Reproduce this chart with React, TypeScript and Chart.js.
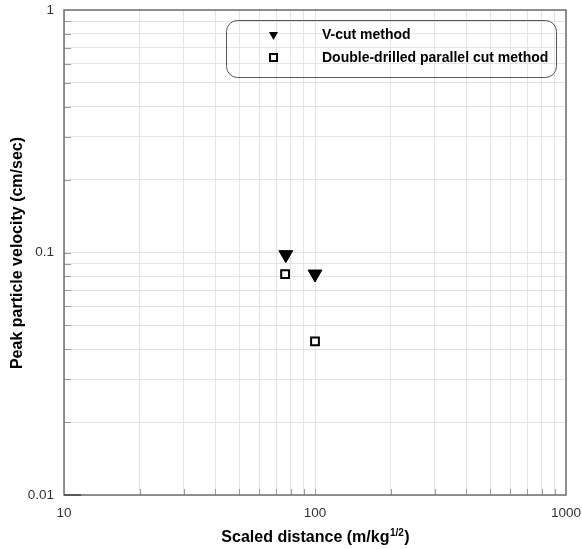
import React, { useEffect, useRef } from "react";
import { Chart, registerables } from "chart.js";

Chart.register(...registerables);

const seriesNames = ["V-cut method", "Double-drilled parallel cut method"];
const vcutX = [76.5, 100];
const vcutY = [0.098, 0.0815];
const doubleX = [76, 100];
const doubleY = [0.0815, 0.043];

const xTickValues = [10, 20, 30, 40, 50, 60, 70, 80, 90, 100, 200, 300, 400, 500, 600, 700, 800, 900, 1000];
const xMajor = [10, 100, 1000];
const yTickValues = [0.01, 0.02, 0.03, 0.04, 0.05, 0.06, 0.07, 0.08, 0.09, 0.1, 0.2, 0.3, 0.4, 0.5, 0.6, 0.7, 0.8, 0.9, 1];
const yMajor = [0.01, 0.1, 1];
const xTitle = "Scaled distance (m/kg";
const xTitleSup = "1/2";
const yTitle = "Peak particle velocity (cm/sec)";

const FONT = "'Liberation Sans', Arial, sans-serif";

const decorPlugin = {
  id: "decor",
  beforeDatasetsDraw(chart: any) {
    const { ctx, chartArea: a, scales } = chart;
    ctx.save();
    ctx.strokeStyle = "#9a9a9a";
    ctx.lineWidth = 1;
    xTickValues.forEach((v) => {
      if (v === 10 || v === 1000) return;
      const px = Math.round(scales.x.getPixelForValue(v)) + 0.5;
      ctx.beginPath();
      ctx.moveTo(px, a.bottom);
      ctx.lineTo(px, a.bottom - 6);
      ctx.stroke();
    });
    yTickValues.forEach((v) => {
      if (v === 0.01 || v === 1) return;
      const py = Math.round(scales.y.getPixelForValue(v)) + 0.5;
      ctx.beginPath();
      ctx.moveTo(a.left, py);
      ctx.lineTo(a.left + 7, py);
      ctx.stroke();
    });
    ctx.strokeStyle = "#6e6e6e";
    ctx.lineWidth = 1.5;
    ctx.strokeRect(a.left, a.top, a.right - a.left, a.bottom - a.top);
    ctx.strokeStyle = "#444";
    ctx.beginPath();
    ctx.moveTo(a.left, a.bottom);
    ctx.lineTo(a.left + 17, a.bottom);
    ctx.stroke();
    ctx.restore();
  },
  afterDraw(chart: any) {
    const { ctx, chartArea: a } = chart;
    ctx.save();
    ctx.strokeStyle = "#555";
    ctx.lineWidth = 1;
    ctx.beginPath();
    (ctx as any).roundRect(226.5, 20.5, 330, 57, 11);
    ctx.stroke();
    ctx.fillStyle = "#000";
    ctx.beginPath();
    ctx.moveTo(269, 32);
    ctx.lineTo(278, 32);
    ctx.lineTo(273.5, 40);
    ctx.closePath();
    ctx.fill();
    ctx.strokeStyle = "#000";
    ctx.lineWidth = 2;
    ctx.fillStyle = "#fff";
    ctx.fillRect(270, 54, 7, 7);
    ctx.strokeRect(270, 54, 7, 7);
    ctx.fillStyle = "#000";
    ctx.font = `bold 14px ${FONT}`;
    ctx.textBaseline = "alphabetic";
    ctx.textAlign = "left";
    ctx.fillText(seriesNames[0], 322, 39);
    ctx.fillText(seriesNames[1], 322, 61.5);
    // x title
    ctx.font = `bold 16px ${FONT}`;
    const w1 = ctx.measureText(xTitle).width;
    ctx.font = `bold 10px ${FONT}`;
    const w2 = ctx.measureText(xTitleSup).width;
    ctx.font = `bold 16px ${FONT}`;
    const w3 = ctx.measureText(")").width;
    const cx = (a.left + a.right) / 2;
    let sx = cx - (w1 + w2 + w3) / 2;
    const base = 541.5;
    ctx.fillText(xTitle, sx, base);
    sx += w1;
    ctx.font = `bold 10px ${FONT}`;
    ctx.fillText(xTitleSup, sx + 0.5, base - 6);
    sx += w2 + 1;
    ctx.font = `bold 16px ${FONT}`;
    ctx.fillText(")", sx, base);
    // y title
    ctx.translate(18, 253);
    ctx.rotate(-Math.PI / 2);
    ctx.textAlign = "center";
    ctx.textBaseline = "middle";
    ctx.fillText(yTitle, 0, 0);
    ctx.restore();
  },
};

export default function App() {
  const ref = useRef<HTMLCanvasElement | null>(null);
  useEffect(() => {
    document.body.style.margin = "0";
    const canvas = ref.current!;
    const chart = new Chart(canvas, {
      type: "scatter",
      data: {
        datasets: [
          {
            label: seriesNames[0],
            data: vcutX.map((x, i) => ({ x, y: vcutY[i] })),
            pointStyle: "triangle",
            rotation: 180,
            pointRadius: 8,
            pointHoverRadius: 8,
            backgroundColor: "#000",
            borderColor: "#000",
            borderWidth: 1,
          },
          {
            label: seriesNames[1],
            data: doubleX.map((x, i) => ({ x, y: doubleY[i] })),
            pointStyle: "rect",
            pointRadius: 5.5,
            pointHoverRadius: 5.5,
            backgroundColor: "#fff",
            borderColor: "#000",
            borderWidth: 2,
          },
        ],
      },
      options: {
        animation: false,
        responsive: false,
        events: [],
        layout: { padding: { top: 10, right: 16, left: 0, bottom: 0 } },
        plugins: { legend: { display: false }, tooltip: { enabled: false } },
        scales: {
          x: {
            type: "logarithmic",
            min: 10,
            max: 1000,
            afterBuildTicks: (s: any) => {
              s.ticks = xTickValues.map((v) => ({ value: v, major: xMajor.includes(v) }));
            },
            afterFit: (s: any) => {
              s.height = 54;
              s.paddingLeft = 0;
              s.paddingRight = 0;
            },
            ticks: {
              autoSkip: false,
              maxRotation: 0,
              padding: 10,
              color: "#333",
              font: { size: 13.5, family: FONT },
              callback: (v: any) => (xMajor.includes(Number(v)) ? String(v) : ""),
            },
            grid: { color: "#e4e4e4", drawTicks: false },
            border: { display: false },
          },
          y: {
            type: "logarithmic",
            min: 0.01,
            max: 1,
            afterBuildTicks: (s: any) => {
              s.ticks = yTickValues.map((v) => ({ value: v, major: yMajor.includes(v) }));
            },
            afterFit: (s: any) => {
              s.width = 64;
              s.paddingTop = 0;
              s.paddingBottom = 0;
            },
            ticks: {
              autoSkip: false,
              padding: 10,
              color: "#333",
              font: { size: 13.5, family: FONT },
              callback: (v: any) => (yMajor.includes(Number(v)) ? String(v) : ""),
            },
            grid: { color: "#e4e4e4", drawTicks: false },
            border: { display: false },
          },
        },
      },
      plugins: [decorPlugin],
    });
    return () => chart.destroy();
  }, []);
  return (
    <div style={{ width: 582, height: 549 }}>
      <canvas ref={ref} width={582} height={549} style={{ display: "block", width: 582, height: 549 }} />
    </div>
  );
}
